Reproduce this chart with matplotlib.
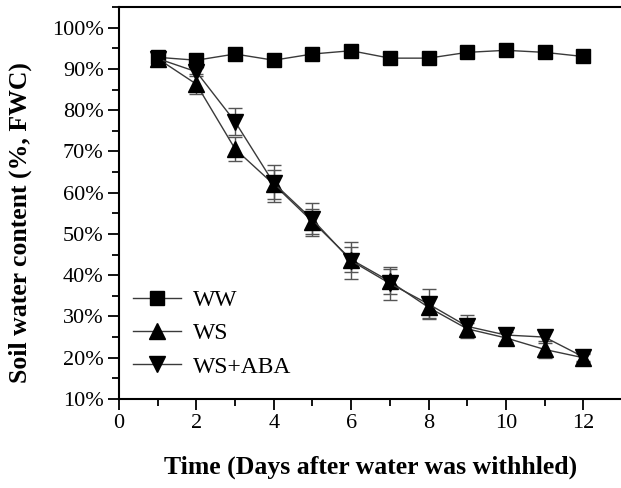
import matplotlib.pyplot as plt
from matplotlib.lines import Line2D
from matplotlib.ticker import MultipleLocator, FuncFormatter

plt.rcParams['font.family'] = ['Liberation Serif', 'DejaVu Serif']

days = [1, 2, 3, 4, 5, 6, 7, 8, 9, 10, 11, 12]
ww = [92.8, 92.1, 93.6, 92.1, 93.6, 94.4, 92.6, 92.6, 94.0, 94.5, 94.0, 93.0]
ww_err = [0.5, 0.4, 0.4, 0.4, 0.4, 0.4, 0.4, 1.2, 0.4, 0.4, 0.4, 0.4]
ws = [92.5, 86.3, 70.6, 62.0, 53.0, 43.8, 38.5, 32.2, 27.0, 24.8, 22.0, 20.0]
ws_err = [0.5, 2.5, 3.0, 3.5, 3.0, 3.0, 3.0, 2.5, 1.5, 1.5, 2.0, 1.0]
aba = [92.5, 89.3, 77.2, 62.3, 53.5, 43.5, 38.0, 33.0, 27.6, 25.5, 25.0, 20.2]
aba_err = [0.5, 1.0, 3.3, 4.5, 4.0, 4.5, 4.0, 3.7, 2.7, 1.8, 1.5, 1.0]

fig = plt.figure(figsize=(6.21, 4.88), dpi=100)
ax = fig.add_axes([0.1916, 0.1824, 0.8100, 0.8033])

line_kw = dict(color='#3a3a3a', lw=1.0, ecolor='#555555', elinewidth=1.0,
               capsize=5, capthick=1.0, markerfacecolor='black',
               markeredgecolor='black')
ax.errorbar(days, ww, yerr=ww_err, marker='s', ms=10, **line_kw)
ax.errorbar(days, ws, yerr=ws_err, marker='^', ms=11, **line_kw)
ax.errorbar(days, aba, yerr=aba_err, marker='v', ms=11, **line_kw)

ax.set_xlim(0, 13)
ax.set_ylim(10, 105)
ax.xaxis.set_major_locator(MultipleLocator(2))
ax.xaxis.set_minor_locator(MultipleLocator(1))
ax.yaxis.set_major_locator(MultipleLocator(10))
ax.yaxis.set_minor_locator(MultipleLocator(5))
ax.yaxis.set_major_formatter(FuncFormatter(lambda v, p: '%d%%' % v))

ax.spines['right'].set_visible(False)
for s in ['left', 'bottom', 'top']:
    ax.spines[s].set_linewidth(1.5)
ax.tick_params(which='major', direction='out', length=8, width=1.3, labelsize=16, pad=3)
ax.tick_params(which='minor', direction='out', length=5, width=1.3)

ax.set_xlabel('Time (Days after water was withhled)', fontsize=18.5, fontweight='bold', labelpad=16)
ax.set_ylabel('Soil water content (%, FWC)', fontsize=18.5, fontweight='bold')
ax.yaxis.set_label_coords(-0.173, 0.45)

# legend without error bars
handles = [Line2D([], [], color='#3a3a3a', lw=1.0, marker=m, ms=s, markerfacecolor='black',
                  markeredgecolor='black') for m, s in [('s', 10), ('^', 11), ('v', 11)]]
ax.legend(handles, ['WW', 'WS', 'WS+ABA'], loc='lower left', bbox_to_anchor=(-0.004, 0.012),
          frameon=False, fontsize=17, handlelength=2.0, handletextpad=0.5, labelspacing=0.5,
          borderaxespad=0.3)

fig.savefig('out.png', dpi=100)
